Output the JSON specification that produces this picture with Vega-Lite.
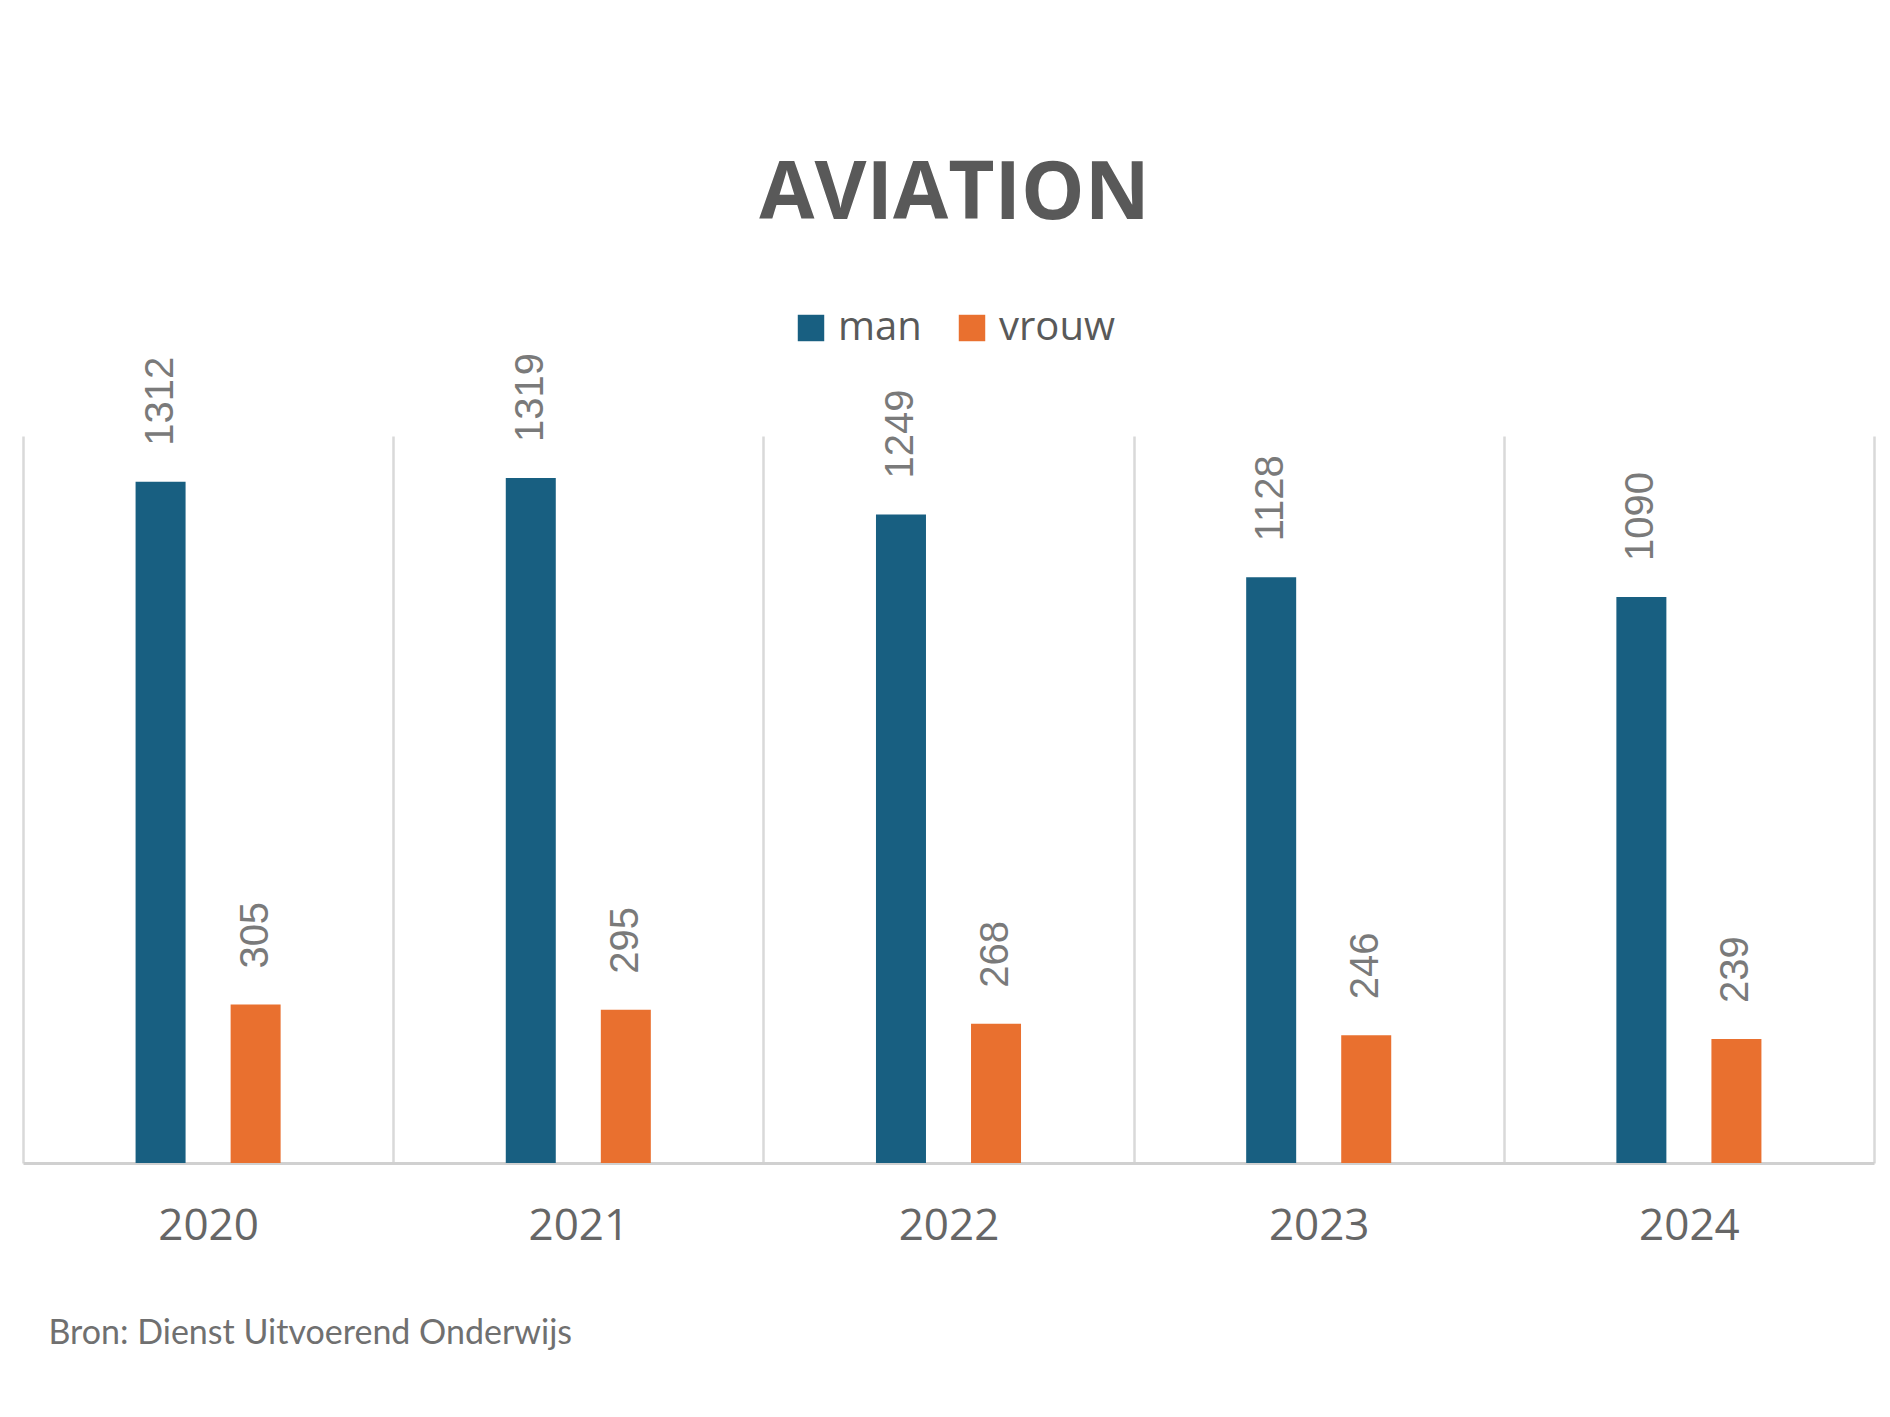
{
  "$schema": "https://vega.github.io/schema/vega-lite/v6.json",
  "width": 1851,
  "height": 727,
  "autosize": {"type": "none"},
  "padding": {"left": 23, "top": 436, "right": 16, "bottom": 254},
  "background": "white",
  "title": {
    "text": "AVIATION",
    "font": "Open Sans",
    "fontSize": 80,
    "fontWeight": "bold",
    "color": "#595959",
    "anchor": "middle",
    "baseline": "alphabetic",
    "offset": 9,
    "dx": 6
  },
  "data": {
    "values": [
      {"year": "2020", "sex": "man", "value": 1312},
      {"year": "2020", "sex": "vrouw", "value": 305},
      {"year": "2021", "sex": "man", "value": 1319},
      {"year": "2021", "sex": "vrouw", "value": 295},
      {"year": "2022", "sex": "man", "value": 1249},
      {"year": "2022", "sex": "vrouw", "value": 268},
      {"year": "2023", "sex": "man", "value": 1128},
      {"year": "2023", "sex": "vrouw", "value": 246},
      {"year": "2024", "sex": "man", "value": 1090},
      {"year": "2024", "sex": "vrouw", "value": 239}
    ]
  },
  "encoding": {
    "x": {
      "field": "year",
      "type": "nominal",
      "scale": {"paddingInner": 0, "paddingOuter": 0},
      "axis": {
        "title": "Bron: Dienst Uitvoerend Onderwijs",
        "titleAnchor": "start",
        "titleAlign": "left",
        "titleX": 25,
        "titleY": 180,
        "titleBaseline": "alphabetic",
        "titleFont": "Lato",
        "titleFontSize": 34,
        "titleFontWeight": "normal",
        "titleColor": "#707070",
        "labelAngle": 0,
        "labelFont": "Open Sans",
        "labelFontSize": 44,
        "labelColor": "#666666",
        "labelPadding": 41,
        "ticks": false,
        "domain": true,
        "domainColor": "#d0d0d0",
        "domainWidth": 3,
        "grid": true,
        "gridColor": "#d9d9d9",
        "gridWidth": 2.5,
        "tickBand": "extent"
      }
    },
    "xOffset": {
      "field": "sex",
      "type": "nominal",
      "sort": ["man", "vrouw"],
      "scale": {"paddingInner": 0.105, "paddingOuter": 1}
    },
    "y": {
      "field": "value",
      "type": "quantitative",
      "scale": {"domain": [0, 1400], "nice": false},
      "axis": null
    }
  },
  "layer": [
    {
      "mark": {"type": "bar", "width": 50},
      "encoding": {
        "color": {
          "field": "sex",
          "type": "nominal",
          "scale": {"domain": ["man", "vrouw"], "range": ["#185f81", "#e9702f"]},
          "legend": {
            "orient": "none",
            "legendX": 768,
            "legendY": -128,
            "direction": "horizontal",
            "title": null,
            "symbolType": "square",
            "symbolSize": 700,
            "symbolStrokeWidth": 0,
            "labelFont": "Open Sans",
            "labelFontSize": 40,
            "labelColor": "#595959",
            "labelOffset": 7,
            "columnPadding": 30,
            "padding": 0
          }
        }
      }
    },
    {
      "mark": {
        "type": "text",
        "angle": 270,
        "align": "left",
        "baseline": "middle",
        "dx": 36,
        "font": "Liberation Sans",
        "fontSize": 40,
        "color": "#7a7a7a"
      },
      "encoding": {
        "text": {"field": "value", "type": "quantitative", "format": "d"}
      }
    }
  ],
  "config": {"view": {"stroke": null}}
}
